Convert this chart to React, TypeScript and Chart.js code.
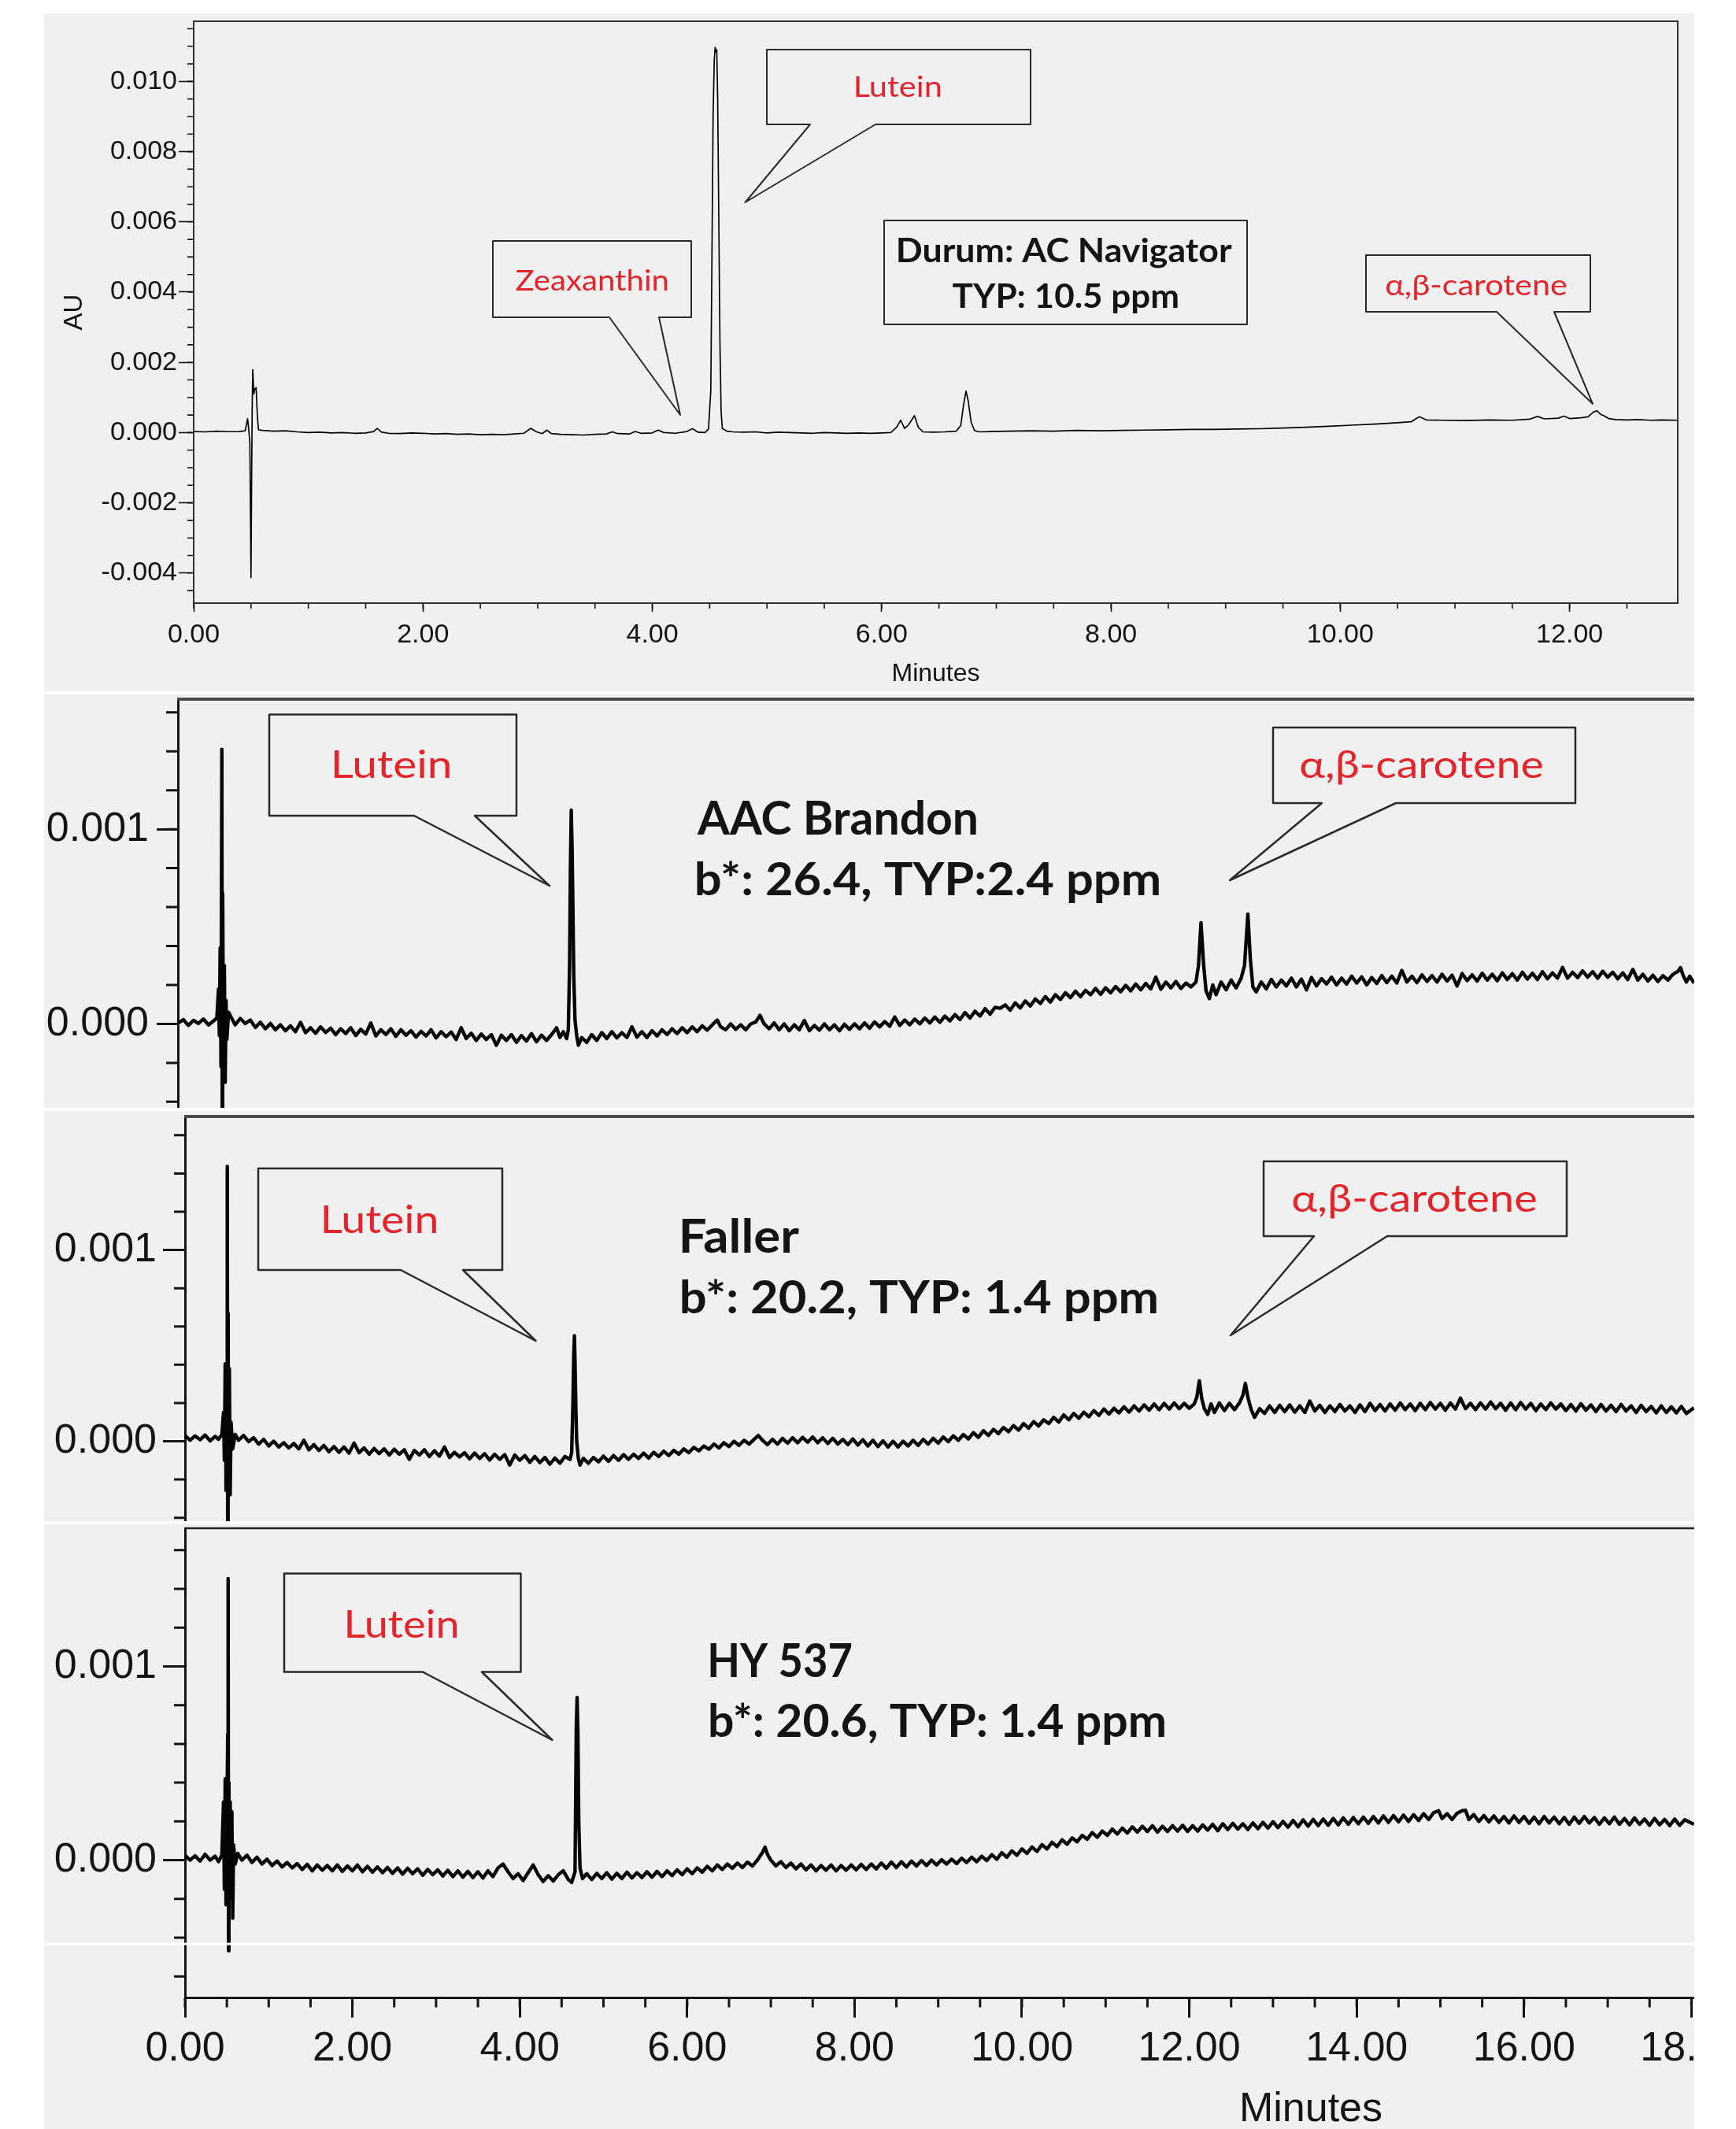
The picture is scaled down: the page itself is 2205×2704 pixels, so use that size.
import React, { useEffect, useRef } from 'react';
import { Chart, registerables } from 'chart.js';

Chart.register(...registerables);

const BG = '#f0f0f0';
const RED = '#e3242b';
const INK = '#141414';
const AXIS_FONT = "'Liberation Sans', Arial, Helvetica, sans-serif";
const NOTE_FONT = "Lato, 'Open Sans', 'Noto Sans', sans-serif";

type Pt = [number, number];

// ---------------- Data (time in minutes, absorbance in micro-AU) ----------------
const TOP_X_TICKS = [0, 2, 4, 6, 8, 10, 12];
const TOP_Y_TICKS = [-4000, -2000, 0, 2000, 4000, 6000, 8000, 10000];
const BOTTOM_X_TICKS = [0, 2, 4, 6, 8, 10, 12, 14, 16, 18];
const STRIP_Y_TICKS = [0, 1000];

// Durum: AC Navigator
const NAVIGATOR: Pt[] = [
  [0, 30], [0.1, 20], [0.2, 40], [0.3, 25], [0.4, 30], [0.45, 50], [0.47, 400], [0.48, 100], [0.49, -300],
  [0.5, -4130], [0.505, -1500], [0.51, 600], [0.515, 1790], [0.525, 1100], [0.535, 1250], [0.545, 1280],
  [0.555, 500], [0.565, 80], [0.6, 60], [0.7, 40], [0.8, 50], [0.9, 20], [1, 0], [1.1, 10], [1.2, -10],
  [1.3, 0], [1.4, -20], [1.5, -10], [1.57, 30], [1.6, 120], [1.64, 10], [1.7, -20], [1.8, -30], [1.9, -10],
  [2, -20], [2.1, -40], [2.2, -30], [2.3, -50], [2.4, -40], [2.5, -60], [2.6, -50], [2.7, -60], [2.8, -40],
  [2.88, -20], [2.94, 120], [2.99, 20], [3.04, -30], [3.08, 70], [3.12, -30], [3.2, -50], [3.3, -60],
  [3.4, -70], [3.5, -50], [3.6, -40], [3.65, 20], [3.7, -30], [3.8, -40], [3.85, 30], [3.9, -20], [4, -10],
  [4.05, 70], [4.1, 0], [4.2, -20], [4.3, 30], [4.35, 110], [4.4, 10], [4.46, 0], [4.49, 100], [4.51, 1200],
  [4.52, 5000], [4.53, 9000], [4.54, 10600], [4.548, 10970], [4.555, 10850], [4.562, 10900], [4.57, 9500],
  [4.58, 6000], [4.59, 2500], [4.6, 600], [4.61, 120], [4.65, 40], [4.7, 20], [4.8, 10], [4.9, 20], [5, -10],
  [5.1, 10], [5.2, 0], [5.3, -10], [5.4, -20], [5.5, 0], [5.6, -10], [5.7, -20], [5.8, -10], [5.9, -20],
  [6, -10], [6.08, 0], [6.13, 150], [6.166, 350], [6.2, 120], [6.23, 200], [6.286, 480], [6.32, 150],
  [6.36, 20], [6.45, 10], [6.55, 20], [6.65, 40], [6.69, 200], [6.715, 800], [6.736, 1180], [6.755, 900],
  [6.78, 300], [6.81, 60], [6.85, 20], [6.95, 30], [7.1, 40], [7.3, 50], [7.5, 40], [7.7, 60], [7.9, 50],
  [8.1, 60], [8.3, 70], [8.5, 80], [8.7, 90], [8.9, 90], [9.1, 100], [9.3, 110], [9.5, 130], [9.7, 150],
  [9.9, 180], [10.1, 210], [10.3, 240], [10.5, 280], [10.62, 310], [10.69, 450], [10.75, 360], [10.9, 350],
  [11.1, 340], [11.3, 360], [11.5, 350], [11.65, 380], [11.72, 460], [11.78, 390], [11.9, 410], [11.95, 470],
  [12, 400], [12.1, 420], [12.16, 450], [12.21, 590], [12.24, 620], [12.27, 520], [12.3, 480], [12.34, 400],
  [12.4, 370], [12.5, 360], [12.6, 370], [12.7, 350], [12.8, 360], [12.943, 350],
];

// AAC Brandon
const BRANDON: Pt[] = [
  [-0.08, 5], [-0.02, 22], [0.04, -8], [0.1, 18], [0.16, 2], [0.22, 25], [0.28, -5], [0.34, 15], [0.38, 30],
  [0.4, 180], [0.41, -60], [0.42, 390], [0.43, -220], [0.44, 1410], [0.445, -600], [0.45, 672], [0.46, -230],
  [0.47, 300], [0.48, -300], [0.49, 120], [0.5, -80], [0.52, 60], [0.55, 35], [0.6, -5], [0.66, 28], [0.72, 2],
  [0.78, 20], [0.84, -18], [0.9, 8], [0.96, -25], [1.02, 2], [1.08, -30], [1.14, -5], [1.2, -35], [1.26, -10],
  [1.32, -40], [1.38, 8], [1.44, -45], [1.5, -20], [1.56, -48], [1.62, -15], [1.68, -44], [1.74, -22],
  [1.8, -55], [1.86, -25], [1.92, -50], [1.98, -20], [2.04, -60], [2.1, -28], [2.16, -52], [2.22, 5],
  [2.28, -62], [2.34, -30], [2.4, -55], [2.46, -25], [2.52, -64], [2.58, -30], [2.64, -58], [2.7, -35],
  [2.76, -68], [2.82, -38], [2.88, -62], [2.94, -30], [3, -72], [3.06, -40], [3.12, -66], [3.18, -42],
  [3.24, -80], [3.3, -20], [3.36, -75], [3.42, -48], [3.48, -85], [3.54, -52], [3.6, -80], [3.66, -55],
  [3.72, -110], [3.78, -58], [3.84, -85], [3.9, -55], [3.96, -95], [4.02, -60], [4.08, -88], [4.14, -50],
  [4.2, -92], [4.26, -58], [4.32, -85], [4.38, -55], [4.44, -20], [4.48, -70], [4.52, -40], [4.56, -75],
  [4.58, -30], [4.595, 300], [4.605, 800], [4.615, 1098], [4.625, 900], [4.635, 600], [4.645, 250], [4.66, 20],
  [4.68, -60], [4.7, -110], [4.74, -70], [4.8, -95], [4.86, -55], [4.92, -85], [4.98, -45], [5.04, -75],
  [5.1, -40], [5.16, -72], [5.22, -45], [5.28, -70], [5.34, -15], [5.4, -68], [5.46, -40], [5.52, -70],
  [5.58, -35], [5.64, -62], [5.7, -30], [5.76, -55], [5.82, -25], [5.88, -50], [5.94, -20], [6, -45],
  [6.06, -15], [6.12, -40], [6.18, -10], [6.24, -32], [6.3, -5], [6.36, 20], [6.4, -15], [6.46, -30], [6.52, 0],
  [6.58, -28], [6.64, -5], [6.7, -30], [6.76, 0], [6.82, 10], [6.87, 44], [6.92, 0], [6.98, -25], [7.04, 5],
  [7.1, -30], [7.16, 0], [7.22, -35], [7.28, -5], [7.34, -30], [7.4, 18], [7.46, -35], [7.52, -8], [7.58, -32],
  [7.64, 0], [7.7, -30], [7.76, -5], [7.82, -35], [7.88, -2], [7.94, -28], [8, 0], [8.06, -25], [8.12, 5],
  [8.18, -22], [8.24, 10], [8.3, -15], [8.36, 12], [8.42, -12], [8.48, 35], [8.54, -8], [8.6, 20], [8.66, -5],
  [8.72, 25], [8.78, 0], [8.84, 30], [8.9, 5], [8.96, 35], [9.02, 8], [9.08, 40], [9.14, 15], [9.2, 48],
  [9.26, 22], [9.32, 58], [9.38, 30], [9.44, 65], [9.5, 40], [9.56, 78], [9.62, 50], [9.68, 85], [9.74, 80],
  [9.8, 98], [9.86, 70], [9.92, 108], [9.98, 82], [10.04, 118], [10.1, 92], [10.16, 128], [10.22, 105],
  [10.28, 140], [10.34, 112], [10.4, 150], [10.46, 125], [10.52, 160], [10.58, 135], [10.64, 168], [10.7, 140],
  [10.76, 172], [10.82, 150], [10.88, 182], [10.94, 152], [11, 185], [11.06, 160], [11.12, 192], [11.18, 165],
  [11.24, 198], [11.3, 170], [11.36, 205], [11.42, 175], [11.48, 208], [11.54, 180], [11.6, 240], [11.66, 178],
  [11.72, 215], [11.78, 185], [11.84, 218], [11.9, 182], [11.96, 210], [12.02, 190], [12.08, 215], [12.11, 300],
  [12.14, 520], [12.17, 310], [12.2, 170], [12.24, 130], [12.28, 200], [12.32, 150], [12.38, 215], [12.44, 175],
  [12.5, 225], [12.56, 185], [12.62, 235], [12.66, 300], [12.7, 564], [12.73, 330], [12.76, 190], [12.8, 165],
  [12.86, 215], [12.92, 180], [12.98, 228], [13.04, 190], [13.1, 225], [13.16, 195], [13.22, 235], [13.28, 190],
  [13.34, 230], [13.4, 175], [13.46, 238], [13.52, 195], [13.58, 232], [13.64, 205], [13.7, 240], [13.76, 200],
  [13.82, 235], [13.88, 205], [13.94, 245], [14, 210], [14.06, 242], [14.12, 200], [14.18, 238], [14.24, 208],
  [14.3, 248], [14.36, 212], [14.42, 245], [14.48, 210], [14.54, 275], [14.6, 215], [14.66, 245], [14.72, 212],
  [14.78, 252], [14.84, 218], [14.9, 248], [14.96, 215], [15.02, 255], [15.08, 220], [15.14, 250], [15.2, 195],
  [15.26, 258], [15.32, 222], [15.38, 252], [15.44, 220], [15.5, 260], [15.56, 225], [15.62, 255], [15.68, 222],
  [15.74, 262], [15.8, 228], [15.86, 258], [15.92, 225], [15.98, 265], [16.04, 230], [16.1, 260], [16.16, 228],
  [16.22, 268], [16.28, 232], [16.34, 262], [16.4, 235], [16.46, 290], [16.52, 235], [16.58, 265], [16.64, 238],
  [16.7, 272], [16.76, 240], [16.82, 268], [16.88, 235], [16.94, 270], [17, 240], [17.06, 265], [17.12, 232],
  [17.18, 262], [17.24, 228], [17.3, 280], [17.36, 225], [17.42, 255], [17.48, 220], [17.54, 250], [17.6, 218],
  [17.66, 248], [17.72, 225], [17.78, 255], [17.84, 270], [17.87, 289], [17.9, 250], [17.94, 215], [17.98, 245],
  [18.03, 210],
];

// Faller
const FALLER: Pt[] = [
  [0, 30], [0.06, 5], [0.12, 28], [0.18, 8], [0.24, 32], [0.3, 2], [0.36, 25], [0.4, 10], [0.44, 35],
  [0.46, 150], [0.47, -100], [0.48, 405], [0.49, -257], [0.5, 120], [0.505, 1437], [0.51, -600], [0.515, 670],
  [0.52, -250], [0.53, 380], [0.54, -280], [0.55, 100], [0.57, -40], [0.6, 35], [0.64, 5], [0.7, 30], [0.76, -2],
  [0.82, 18], [0.88, -15], [0.94, 10], [1, -25], [1.06, 0], [1.12, -30], [1.18, -8], [1.24, -35], [1.3, -12],
  [1.36, -40], [1.42, 5], [1.48, -45], [1.54, -18], [1.6, -48], [1.66, -22], [1.72, -55], [1.78, -28],
  [1.84, -58], [1.9, -30], [1.96, -62], [2.02, -10], [2.08, -60], [2.14, -35], [2.2, -68], [2.26, -38],
  [2.32, -65], [2.38, -40], [2.44, -72], [2.5, -42], [2.56, -68], [2.62, -45], [2.68, -95], [2.74, -48],
  [2.8, -72], [2.86, -45], [2.92, -80], [2.98, -50], [3.04, -78], [3.1, -30], [3.16, -85], [3.22, -58],
  [3.28, -82], [3.34, -60], [3.4, -92], [3.46, -62], [3.52, -90], [3.58, -65], [3.64, -98], [3.7, -68],
  [3.76, -95], [3.82, -70], [3.88, -125], [3.94, -72], [4, -100], [4.06, -75], [4.12, -110], [4.18, -80],
  [4.24, -112], [4.3, -85], [4.36, -120], [4.42, -88], [4.48, -115], [4.54, -80], [4.6, -95], [4.62, -60],
  [4.635, 200], [4.645, 450], [4.653, 552], [4.66, 420], [4.67, 180], [4.68, 0], [4.7, -90], [4.72, -125],
  [4.76, -90], [4.82, -115], [4.88, -85], [4.94, -108], [5, -78], [5.06, -105], [5.12, -75], [5.18, -100],
  [5.24, -70], [5.3, -95], [5.36, -68], [5.42, -90], [5.48, -62], [5.54, -88], [5.6, -58], [5.66, -80],
  [5.72, -52], [5.78, -75], [5.84, -48], [5.9, -68], [5.96, -40], [6.02, -60], [6.08, -32], [6.14, -50],
  [6.2, -25], [6.26, -42], [6.32, -15], [6.38, -35], [6.44, -8], [6.5, -28], [6.56, 0], [6.62, -22], [6.68, 5],
  [6.74, -15], [6.8, 10], [6.85, 30], [6.9, 5], [6.96, -18], [7.02, 10], [7.08, -15], [7.14, 15], [7.2, -10],
  [7.26, 18], [7.32, -8], [7.38, 20], [7.44, -5], [7.5, 22], [7.56, -8], [7.62, 18], [7.68, -12], [7.74, 15],
  [7.8, -15], [7.86, 10], [7.92, -18], [7.98, 12], [8.04, -20], [8.1, 8], [8.16, -25], [8.22, 5], [8.28, -28],
  [8.34, 2], [8.4, -30], [8.46, 0], [8.52, -30], [8.58, 0], [8.64, -25], [8.7, 5], [8.76, -22], [8.82, 10],
  [8.88, -15], [8.94, 15], [9, -10], [9.06, 22], [9.12, -2], [9.18, 28], [9.24, 5], [9.3, 35], [9.36, 12],
  [9.42, 45], [9.48, 20], [9.54, 55], [9.6, 30], [9.66, 62], [9.72, 40], [9.78, 72], [9.84, 50], [9.9, 82],
  [9.96, 58], [10.02, 92], [10.08, 68], [10.14, 102], [10.2, 80], [10.26, 112], [10.32, 92], [10.38, 125],
  [10.44, 100], [10.5, 138], [10.56, 112], [10.62, 145], [10.68, 120], [10.74, 152], [10.8, 128], [10.86, 160],
  [10.92, 135], [10.98, 168], [11.04, 142], [11.1, 172], [11.16, 148], [11.22, 180], [11.28, 152], [11.34, 185],
  [11.4, 158], [11.46, 190], [11.52, 162], [11.58, 195], [11.64, 165], [11.7, 198], [11.76, 168], [11.82, 200],
  [11.88, 170], [11.94, 198], [12, 172], [12.06, 195], [12.09, 230], [12.12, 316], [12.15, 220], [12.18, 170],
  [12.22, 140], [12.26, 195], [12.3, 150], [12.36, 200], [12.42, 160], [12.48, 198], [12.54, 165], [12.6, 200],
  [12.64, 240], [12.67, 302], [12.7, 230], [12.74, 165], [12.78, 125], [12.84, 170], [12.9, 145], [12.96, 185],
  [13.02, 150], [13.08, 188], [13.14, 155], [13.2, 190], [13.26, 152], [13.32, 185], [13.38, 150], [13.44, 210],
  [13.5, 158], [13.56, 188], [13.62, 150], [13.68, 185], [13.74, 155], [13.8, 192], [13.86, 158], [13.92, 185],
  [13.98, 150], [14.04, 190], [14.1, 155], [14.16, 198], [14.22, 160], [14.28, 192], [14.34, 158], [14.4, 195],
  [14.46, 162], [14.52, 200], [14.58, 165], [14.64, 195], [14.7, 160], [14.76, 198], [14.82, 165], [14.88, 202],
  [14.94, 168], [15, 198], [15.06, 162], [15.12, 200], [15.18, 168], [15.24, 225], [15.3, 170], [15.36, 198],
  [15.42, 165], [15.48, 200], [15.54, 168], [15.6, 205], [15.66, 170], [15.72, 198], [15.78, 162], [15.84, 200],
  [15.9, 165], [15.96, 202], [16.02, 168], [16.08, 198], [16.14, 160], [16.2, 195], [16.26, 165], [16.32, 200],
  [16.38, 168], [16.44, 195], [16.5, 160], [16.56, 192], [16.62, 158], [16.68, 196], [16.74, 162], [16.8, 190],
  [16.86, 155], [16.92, 192], [16.98, 158], [17.04, 188], [17.1, 155], [17.16, 192], [17.22, 158], [17.28, 185],
  [17.34, 150], [17.4, 188], [17.46, 155], [17.52, 182], [17.58, 148], [17.64, 185], [17.7, 150], [17.76, 180],
  [17.82, 148], [17.88, 182], [17.94, 145], [18.03, 175],
];

// HY 537
const HY537: Pt[] = [
  [0, 25], [0.06, 0], [0.12, 22], [0.18, -5], [0.24, 30], [0.3, 0], [0.36, 20], [0.4, -8], [0.44, 25],
  [0.46, 300], [0.47, -150], [0.48, 420], [0.49, -230], [0.5, 200], [0.51, 650], [0.515, 1453], [0.52, -467],
  [0.525, 400], [0.53, -200], [0.54, 300], [0.55, -150], [0.56, 250], [0.57, -300], [0.58, 80], [0.6, -20],
  [0.63, 35], [0.68, 0], [0.74, 25], [0.8, -12], [0.86, 15], [0.92, -20], [0.98, 5], [1.04, -28], [1.1, -5],
  [1.16, -35], [1.22, -12], [1.28, -40], [1.34, -18], [1.4, -48], [1.46, -22], [1.52, -55], [1.58, -25],
  [1.64, -52], [1.7, -28], [1.76, -55], [1.82, -25], [1.88, -58], [1.94, -30], [2, -55], [2.06, -25],
  [2.12, -60], [2.18, -32], [2.24, -62], [2.3, -35], [2.36, -65], [2.42, -38], [2.48, -68], [2.54, -40],
  [2.6, -72], [2.66, -42], [2.72, -70], [2.78, -45], [2.84, -78], [2.9, -48], [2.96, -75], [3.02, -50],
  [3.08, -82], [3.14, -52], [3.2, -85], [3.26, -55], [3.32, -88], [3.38, -58], [3.44, -90], [3.5, -60],
  [3.56, -92], [3.62, -55], [3.68, -85], [3.74, -40], [3.8, -20], [3.86, -60], [3.92, -95], [3.98, -70],
  [4.04, -105], [4.1, -65], [4.16, -25], [4.22, -75], [4.28, -110], [4.34, -80], [4.4, -108], [4.46, -75],
  [4.52, -55], [4.58, -100], [4.62, -115], [4.66, -60], [4.675, 680], [4.685, 840], [4.695, 650], [4.705, 200],
  [4.72, -40], [4.75, -95], [4.8, -70], [4.86, -100], [4.92, -68], [4.98, -95], [5.04, -65], [5.1, -98],
  [5.16, -68], [5.22, -95], [5.28, -62], [5.34, -92], [5.4, -65], [5.46, -90], [5.52, -60], [5.58, -88],
  [5.64, -58], [5.7, -85], [5.76, -55], [5.82, -80], [5.88, -50], [5.94, -75], [6, -45], [6.06, -70],
  [6.12, -40], [6.18, -62], [6.24, -32], [6.3, -55], [6.36, -25], [6.42, -48], [6.48, -20], [6.54, -42],
  [6.6, -15], [6.66, -38], [6.72, -10], [6.78, -30], [6.84, 0], [6.9, 40], [6.93, 67], [6.96, 30], [7, 0],
  [7.06, -30], [7.12, -8], [7.18, -38], [7.24, -15], [7.3, -45], [7.36, -20], [7.42, -50], [7.48, -25],
  [7.54, -55], [7.6, -28], [7.66, -52], [7.72, -25], [7.78, -55], [7.84, -28], [7.9, -52], [7.96, -25],
  [8.02, -50], [8.08, -22], [8.14, -48], [8.2, -20], [8.26, -45], [8.32, -15], [8.38, -42], [8.44, -10],
  [8.5, -38], [8.56, -8], [8.62, -35], [8.68, -5], [8.74, -30], [8.8, -2], [8.86, -28], [8.92, 0], [8.98, -25],
  [9.04, 2], [9.1, -20], [9.16, 5], [9.22, -18], [9.28, 10], [9.34, -12], [9.4, 15], [9.46, -8], [9.52, 20],
  [9.58, -2], [9.64, 28], [9.7, 5], [9.76, 38], [9.82, 15], [9.88, 48], [9.94, 25], [10, 58], [10.06, 35],
  [10.12, 68], [10.18, 45], [10.24, 80], [10.3, 58], [10.36, 92], [10.42, 70], [10.48, 105], [10.54, 82],
  [10.6, 115], [10.66, 95], [10.72, 128], [10.78, 108], [10.84, 142], [10.9, 118], [10.96, 150], [11.02, 128],
  [11.08, 160], [11.14, 135], [11.2, 165], [11.26, 140], [11.32, 172], [11.38, 145], [11.44, 175], [11.5, 148],
  [11.56, 178], [11.62, 145], [11.68, 175], [11.74, 148], [11.8, 178], [11.86, 150], [11.92, 180], [11.98, 148],
  [12.04, 178], [12.1, 150], [12.16, 182], [12.22, 155], [12.28, 185], [12.34, 152], [12.4, 188], [12.46, 158],
  [12.52, 190], [12.58, 160], [12.64, 188], [12.7, 158], [12.76, 192], [12.82, 162], [12.88, 195], [12.94, 165],
  [13, 198], [13.06, 168], [13.12, 200], [13.18, 170], [13.24, 205], [13.3, 172], [13.36, 208], [13.42, 175],
  [13.48, 210], [13.54, 178], [13.6, 212], [13.66, 180], [13.72, 215], [13.78, 182], [13.84, 218], [13.9, 185],
  [13.96, 220], [14.02, 188], [14.08, 222], [14.14, 190], [14.2, 225], [14.26, 192], [14.32, 228], [14.38, 195],
  [14.44, 230], [14.5, 198], [14.56, 232], [14.62, 200], [14.68, 235], [14.74, 205], [14.8, 240], [14.86, 210],
  [14.92, 245], [14.98, 255], [15.02, 215], [15.08, 240], [15.14, 210], [15.2, 242], [15.26, 255], [15.3, 258],
  [15.34, 210], [15.4, 235], [15.46, 200], [15.52, 230], [15.58, 198], [15.64, 228], [15.7, 195], [15.76, 225],
  [15.82, 192], [15.88, 228], [15.94, 195], [16, 225], [16.06, 190], [16.12, 222], [16.18, 188], [16.24, 225],
  [16.3, 192], [16.36, 222], [16.42, 188], [16.48, 220], [16.54, 185], [16.6, 222], [16.66, 190], [16.72, 225],
  [16.78, 192], [16.84, 220], [16.9, 185], [16.96, 218], [17.02, 188], [17.08, 222], [17.14, 185], [17.2, 215],
  [17.26, 182], [17.32, 218], [17.38, 185], [17.44, 212], [17.5, 180], [17.56, 215], [17.62, 182], [17.68, 210],
  [17.74, 178], [17.8, 212], [17.86, 180], [17.92, 208], [18.03, 185],
];

// ---------------- Drawing helpers ----------------
type Callout = { box: number[]; base?: number[]; tip?: number[]; lw: number };
type Note = { text: string; cx?: number; x?: number; cy: number; width: number; cap: number; color: string; bold?: boolean };
type Decor = {
  minorX?: { step: number; len: number; width: number };
  minorY?: { step: number; len: number; width: number };
  frame?: { color: string; width: number };
  topLine?: { color: string; width: number };
  gap?: number[];
  callouts?: Callout[];
  notes?: Note[];
  labels?: { text: string; x: number; y: number; size: number }[];
};

function drawCallout(ctx: CanvasRenderingContext2D, c: Callout) {
  const [x1, y1, x2, y2] = c.box;
  ctx.beginPath();
  ctx.moveTo(x1, y1);
  ctx.lineTo(x2, y1);
  ctx.lineTo(x2, y2);
  if (c.base && c.tip) {
    ctx.lineTo(c.base[1], y2);
    ctx.lineTo(c.tip[0], c.tip[1]);
    ctx.lineTo(c.base[0], y2);
  }
  ctx.lineTo(x1, y2);
  ctx.closePath();
  ctx.fillStyle = BG;
  ctx.fill();
  ctx.lineJoin = 'round';
  ctx.strokeStyle = '#2a2a2a';
  ctx.lineWidth = c.lw;
  ctx.stroke();
}

function drawNote(ctx: CanvasRenderingContext2D, n: Note) {
  const size = n.cap / 0.7165;
  ctx.font = `${n.bold ? 'bold ' : ''}${size}px ${NOTE_FONT}`;
  ctx.textAlign = 'left';
  ctx.textBaseline = 'alphabetic';
  const m = ctx.measureText(n.text);
  const inkL = m.actualBoundingBoxLeft || 0;
  const inkW = (m.actualBoundingBoxLeft || 0) + (m.actualBoundingBoxRight || m.width);
  const sx = n.width / inkW;
  const left = n.x !== undefined ? n.x : (n.cx as number) - n.width / 2;
  ctx.save();
  ctx.translate(left, n.cy + n.cap / 2);
  ctx.scale(sx, 1);
  ctx.fillStyle = n.color;
  ctx.fillText(n.text, inkL, 0);
  ctx.restore();
}

function decorPlugin(d: Decor) {
  return {
    id: 'decor',
    afterDatasetsDraw(chart: any) {
      const ctx = chart.ctx as CanvasRenderingContext2D;
      ctx.save();
      (d.callouts || []).forEach((c) => drawCallout(ctx, c));
      (d.notes || []).forEach((n) => drawNote(ctx, n));
      ctx.restore();
    },
    afterDraw(chart: any) {
      const ctx = chart.ctx as CanvasRenderingContext2D;
      const a = chart.chartArea;
      const xs = chart.scales.x;
      const ys = chart.scales.y;
      ctx.save();
      ctx.strokeStyle = INK;
      if (d.minorX && xs.options.display) {
        const { step, len, width } = d.minorX;
        ctx.lineWidth = width;
        ctx.beginPath();
        for (let k = Math.ceil(xs.min / step - 1e-9); k * step <= xs.max + 1e-9; k++) {
          const px = xs.getPixelForValue(k * step);
          ctx.moveTo(px, a.bottom);
          ctx.lineTo(px, a.bottom + len);
        }
        ctx.stroke();
      }
      if (d.minorY) {
        const { step, len, width } = d.minorY;
        ctx.lineWidth = width;
        ctx.beginPath();
        for (let k = Math.ceil(ys.min / step - 1e-9); k * step <= ys.max + 1e-9; k++) {
          const py = ys.getPixelForValue(k * step);
          ctx.moveTo(a.left - len, py);
          ctx.lineTo(a.left, py);
        }
        ctx.stroke();
      }
      if (d.frame) {
        ctx.strokeStyle = d.frame.color;
        ctx.lineWidth = d.frame.width;
        ctx.strokeRect(a.left, a.top, a.right - a.left, a.bottom - a.top);
      }
      if (d.topLine) {
        ctx.fillStyle = d.topLine.color;
        ctx.fillRect(a.left - 1, a.top - d.topLine.width / 2, chart.width - a.left + 1, d.topLine.width);
      }
      if (d.gap) {
        ctx.fillStyle = '#ffffff';
        ctx.fillRect(0, d.gap[0], chart.width, d.gap[1] - d.gap[0]);
      }
      (d.labels || []).forEach((l) => {
        ctx.font = `${l.size}px ${AXIS_FONT}`;
        ctx.fillStyle = INK;
        ctx.textAlign = 'center';
        ctx.textBaseline = 'middle';
        ctx.fillText(l.text, l.x, l.y);
      });
      ctx.restore();
    },
  };
}

type PanelSpec = {
  name: string;
  left: number; top: number; width: number; height: number;
  data: Pt[]; lineWidth: number;
  xMin: number; xMax: number; yMin: number; yMax: number;
  xTicks: number[]; yTicks: number[];
  showX: boolean; yWidth: number; xHeight: number; padTop: number; padRight: number;
  yFont: number; yPad: number; yTickLen: number;
  xFont: number; xPad: number; xTickLen: number;
  axisWidth: number; axisColor: string; tickWidth: number;
  xTitle?: any; yTitle?: any;
  decor: Decor;
};

const fmtAU = (v: any) => {
  const a = Number(v) / 1e6;
  return (Math.abs(a) < 1e-12 ? 0 : a).toFixed(3);
};

function buildConfig(p: PanelSpec): any {
  return {
    type: 'line',
    data: {
      datasets: [{
        data: p.data.map(([x, y]) => ({ x, y })),
        borderColor: '#050505',
        borderWidth: p.lineWidth,
        pointRadius: 0,
        tension: 0,
        fill: false,
        borderJoinStyle: 'round',
      }],
    },
    options: {
      animation: false,
      responsive: false,
      devicePixelRatio: 1,
      events: [],
      layout: { padding: { left: 0, top: p.padTop, right: p.padRight, bottom: 0 } },
      plugins: { legend: { display: false }, tooltip: { enabled: false } },
      scales: {
        x: {
          type: 'linear', position: 'bottom', display: p.showX, min: p.xMin, max: p.xMax,
          afterBuildTicks: (s: any) => { s.ticks = p.xTicks.map((value) => ({ value })); },
          afterFit: (s: any) => { s.height = p.xHeight; s.paddingLeft = 0; s.paddingRight = 0; },
          ticks: {
            autoSkip: false, maxRotation: 0, minRotation: 0, padding: p.xPad, color: INK,
            font: { family: AXIS_FONT, size: p.xFont },
            callback: (v: any) => Number(v).toFixed(2),
          },
          grid: { drawOnChartArea: false, drawTicks: true, tickLength: p.xTickLen, tickWidth: p.tickWidth, tickColor: INK, color: INK },
          border: { display: true, color: p.axisColor, width: p.axisWidth },
          title: p.xTitle || { display: false },
        },
        y: {
          type: 'linear', position: 'left', min: p.yMin, max: p.yMax,
          afterBuildTicks: (s: any) => { s.ticks = p.yTicks.map((value) => ({ value })); },
          afterFit: (s: any) => { s.width = p.yWidth; s.paddingTop = 0; s.paddingBottom = 0; },
          ticks: {
            autoSkip: false, padding: p.yPad, color: INK,
            font: { family: AXIS_FONT, size: p.yFont },
            callback: fmtAU,
          },
          grid: { drawOnChartArea: false, drawTicks: true, tickLength: p.yTickLen, tickWidth: p.tickWidth, tickColor: INK, color: INK },
          border: { display: true, color: p.axisColor, width: p.axisWidth },
          title: p.yTitle || { display: false },
        },
      },
    },
    plugins: [decorPlugin(p.decor)],
  };
}

// ---------------- Panels ----------------
const STRIP_LINE = 4.4;

const PANELS: PanelSpec[] = [
  {
    name: 'navigator', left: 56, top: 17, width: 2096, height: 861,
    data: NAVIGATOR, lineWidth: 1.7,
    xMin: 0, xMax: 12.943, yMin: -4857, yMax: 11713,
    xTicks: TOP_X_TICKS, yTicks: TOP_Y_TICKS,
    showX: true, yWidth: 190, xHeight: 112, padTop: 10, padRight: 21,
    yFont: 34, yPad: 2, yTickLen: 19, xFont: 34, xPad: 9, xTickLen: 11,
    axisWidth: 2, axisColor: '#333333', tickWidth: 1.6,
    xTitle: { display: true, text: 'Minutes', color: INK, font: { family: AXIS_FONT, size: 32 }, padding: { top: 0, bottom: 3 } },
    yTitle: { display: true, text: 'AU', color: INK, font: { family: AXIS_FONT, size: 33 }, padding: { top: 19, bottom: 0 } },
    decor: {
      minorX: { step: 0.5, len: 7, width: 1.6 },
      minorY: { step: 500, len: 8, width: 1.6 },
      frame: { color: '#333333', width: 2 },
      callouts: [
        { box: [918, 46, 1253, 141], base: [973, 1056], tip: [890.5, 240], lw: 2 },
        { box: [570, 289, 822, 386], base: [718, 781], tip: [808, 510], lw: 2 },
        { box: [1679, 307, 1964, 379], base: [1845, 1918], tip: [1967, 496], lw: 2 },
        { box: [1067, 263, 1528, 395], lw: 2 },
      ],
      notes: [
        { text: 'Lutein', cx: 1085, cy: 93, width: 108, cap: 26.5, color: RED },
        { text: 'Zeaxanthin', cx: 695, cy: 339, width: 193, cap: 26, color: RED },
        { text: 'α,β-carotene', cx: 1819, cy: 345, width: 229, cap: 26, color: RED },
        { text: 'Durum: AC Navigator', cx: 1297, cy: 300.5, width: 424, cap: 30, color: INK, bold: true },
        { text: 'TYP: 10.5 ppm', cx: 1297, cy: 359, width: 287, cap: 29.5, color: INK, bold: true },
      ],
    },
  },
  {
    name: 'brandon', left: 56, top: 882, width: 2096, height: 525,
    data: BRANDON, lineWidth: STRIP_LINE,
    xMin: -0.0847, xMax: 18.034, yMin: -431, yMax: 1668,
    xTicks: BOTTOM_X_TICKS, yTicks: STRIP_Y_TICKS,
    showX: false, yWidth: 170, xHeight: 0, padTop: 6, padRight: 0,
    yFont: 52, yPad: 10, yTickLen: 27, xFont: 52, xPad: 9, xTickLen: 25,
    axisWidth: 3, axisColor: INK, tickWidth: 3,
    decor: {
      minorY: { step: 200, len: 15, width: 3 },
      topLine: { color: '#4a4a4a', width: 4 },
      callouts: [
        { box: [286, 25.5, 600, 154], base: [470, 547], tip: [642, 243], lw: 2.5 },
        { box: [1561, 42, 1945, 138], base: [1623, 1717], tip: [1506, 236], lw: 2.5 },
      ],
      notes: [
        { text: 'Lutein', cx: 442, cy: 89, width: 147, cap: 34, color: RED },
        { text: 'α,β-carotene', cx: 1750, cy: 89, width: 307, cap: 34, color: RED },
        { text: 'AAC Brandon', x: 829, cy: 156.5, width: 355, cap: 42, color: INK, bold: true },
        { text: 'b*: 26.4, TYP:2.4 ppm', x: 829, cy: 234.5, width: 587, cap: 41, color: INK, bold: true },
      ],
    },
  },
  {
    name: 'faller', left: 56, top: 1411, width: 2096, height: 521,
    data: FALLER, lineWidth: STRIP_LINE,
    xMin: 0, xMax: 18.034, yMin: -418, yMax: 1698,
    xTicks: BOTTOM_X_TICKS, yTicks: STRIP_Y_TICKS,
    showX: false, yWidth: 179, xHeight: 0, padTop: 7, padRight: 0,
    yFont: 52, yPad: 8, yTickLen: 28, xFont: 52, xPad: 9, xTickLen: 25,
    axisWidth: 3, axisColor: INK, tickWidth: 3,
    decor: {
      minorY: { step: 200, len: 14, width: 3 },
      topLine: { color: '#4a4a4a', width: 4 },
      callouts: [
        { box: [272, 73, 582, 202], base: [453, 532], tip: [624.5, 292], lw: 2.5 },
        { box: [1549, 64, 1934, 159], base: [1613, 1706], tip: [1507, 285], lw: 2.5 },
      ],
      notes: [
        { text: 'Lutein', cx: 427, cy: 137, width: 144, cap: 35, color: RED },
        { text: 'α,β-carotene', cx: 1741, cy: 111, width: 309, cap: 34, color: RED },
        { text: 'Faller', x: 810, cy: 159, width: 149, cap: 42, color: INK, bold: true },
        { text: 'b*: 20.2, TYP: 1.4 ppm', x: 810, cy: 236.5, width: 603, cap: 41, color: INK, bold: true },
      ],
    },
  },
  {
    name: 'hy537', left: 56, top: 1936, width: 2096, height: 768,
    data: HY537, lineWidth: STRIP_LINE,
    xMin: 0, xMax: 18.034, yMin: -711, yMax: 1713,
    xTicks: BOTTOM_X_TICKS, yTicks: STRIP_Y_TICKS,
    showX: true, yWidth: 179, xHeight: 166.5, padTop: 5, padRight: 0,
    yFont: 52, yPad: 8, yTickLen: 28, xFont: 52, xPad: 9, xTickLen: 25,
    axisWidth: 3, axisColor: INK, tickWidth: 3,
    decor: {
      minorX: { step: 0.5, len: 12, width: 3 },
      minorY: { step: 200, len: 14, width: 3 },
      topLine: { color: '#222222', width: 2.5 },
      gap: [531.5, 534.5],
      callouts: [
        { box: [305, 62.5, 605.5, 187.5], base: [481, 556], tip: [645.5, 274], lw: 2.5 },
      ],
      notes: [
        { text: 'Lutein', cx: 455, cy: 126.5, width: 140, cap: 35, color: RED },
        { text: 'HY 537', x: 846, cy: 173, width: 179, cap: 42, color: INK, bold: true },
        { text: 'b*: 20.6, TYP: 1.4 ppm', x: 846, cy: 249.5, width: 577, cap: 41, color: INK, bold: true },
      ],
      labels: [{ text: 'Minutes', x: 1609, y: 744, size: 52 }],
    },
  },
];

function ChartPanel({ spec }: { spec: PanelSpec }) {
  const ref = useRef<HTMLCanvasElement | null>(null);
  useEffect(() => {
    if (!ref.current) return;
    const chart = new Chart(ref.current, buildConfig(spec));
    return () => chart.destroy();
  }, [spec]);
  return (
    <canvas
      ref={ref}
      width={spec.width}
      height={spec.height}
      style={{ position: 'absolute', left: spec.left, top: spec.top, width: spec.width, height: spec.height, background: BG, display: 'block' }}
    />
  );
}

export default function App() {
  return (
    <div style={{ position: 'absolute', left: 0, top: 0, width: 2205, height: 2704, background: '#ffffff', overflow: 'hidden' }}>
      {PANELS.map((p) => (
        <ChartPanel key={p.name} spec={p} />
      ))}
    </div>
  );
}
